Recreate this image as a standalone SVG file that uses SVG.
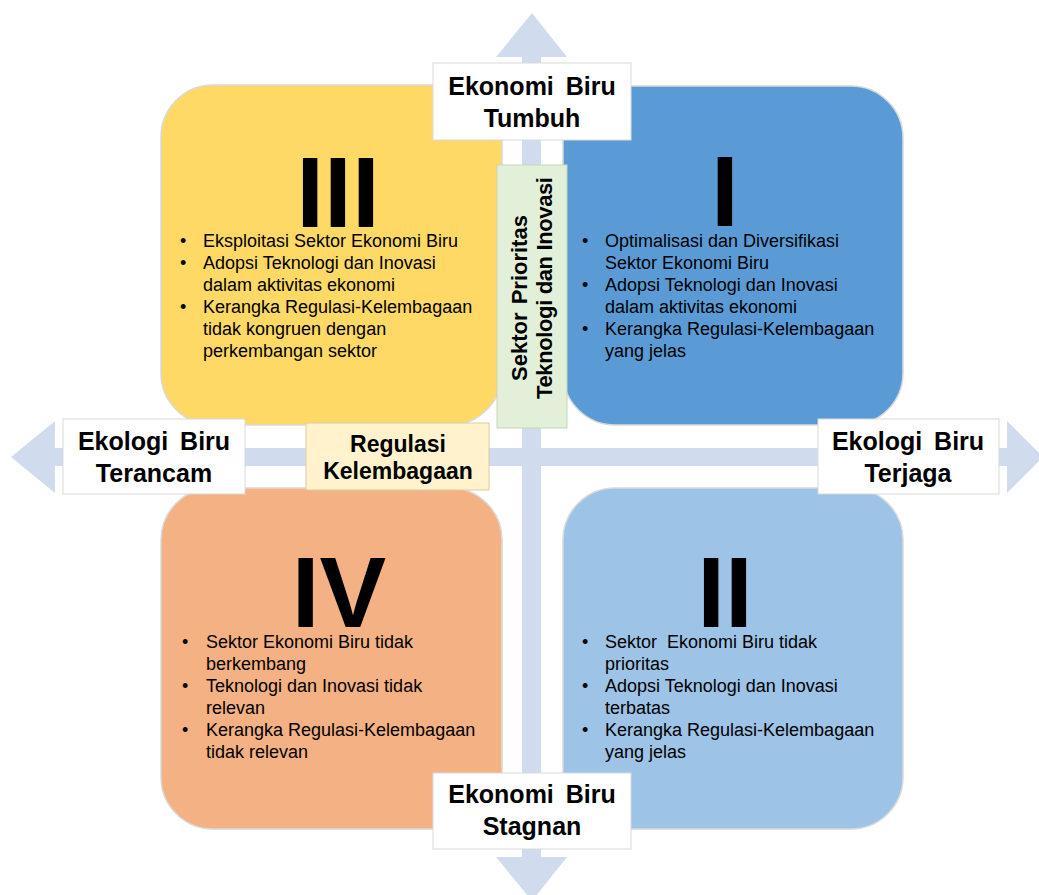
<svg xmlns="http://www.w3.org/2000/svg" width="1039" height="895" viewBox="0 0 1039 895">
<style>
.quad{stroke:#D9D9D9;stroke-width:1.5}
.lbl{fill:#FFFFFF;stroke:#D9D9D9;stroke-width:1}
.lt{font-family:"Liberation Sans",Arial,sans-serif;font-weight:bold;font-size:25px;fill:#000;text-anchor:middle;word-spacing:5px}
.num{font-family:"Liberation Sans",Arial,sans-serif;font-weight:bold;font-size:100px;fill:#000;text-anchor:middle}
.b{font-family:"Liberation Sans",Arial,sans-serif;font-size:18px;fill:#000}
.axis{fill:#D0DCEE}
</style>
<rect width="1039" height="895" fill="#FFFFFF"/>
<g id="connectors">
<polygon class="axis" points="532,13 567,57 541,57 541,857 567,857 532,901 496,857 522,857 522,57 496,57"/>
<polygon class="axis" points="11,457 55,421 55,448 1007,448 1007,421 1043,457 1007,493 1007,466 55,466 55,493"/>
</g>
<g id="quad-III">
<rect class="quad" x="161" y="85" width="341" height="340" rx="52" fill="#FFD966"/>
<text class="num" x="338" y="227">III</text>
<g class="b">
<text x="180" y="247">•</text><text x="203" y="247">Eksploitasi Sektor Ekonomi Biru</text>
<text x="180" y="269">•</text><text x="203" y="269">Adopsi Teknologi dan Inovasi</text>
<text x="203" y="291">dalam aktivitas ekonomi</text>
<text x="180" y="313">•</text><text x="203" y="313">Kerangka Regulasi-Kelembagaan</text>
<text x="203" y="335">tidak kongruen dengan</text>
<text x="203" y="357">perkembangan sektor</text>
</g>
</g>
<g id="quad-I">
<rect class="quad" x="563" y="86" width="340" height="339" rx="52" fill="#5B9BD5"/>
<text class="num" x="725" y="226">I</text>
<g class="b">
<text x="582" y="247">•</text><text x="605" y="247">Optimalisasi dan Diversifikasi</text>
<text x="605" y="269">Sektor Ekonomi Biru</text>
<text x="582" y="291">•</text><text x="605" y="291">Adopsi Teknologi dan Inovasi</text>
<text x="605" y="313">dalam aktivitas ekonomi</text>
<text x="582" y="335">•</text><text x="605" y="335">Kerangka Regulasi-Kelembagaan</text>
<text x="605" y="357">yang jelas</text>
</g>
</g>
<g id="quad-IV">
<rect class="quad" x="161" y="488" width="341" height="341" rx="52" fill="#F4B183"/>
<text class="num" x="339" y="627">IV</text>
<g class="b">
<text x="182" y="648">•</text><text x="206" y="648">Sektor Ekonomi Biru tidak</text>
<text x="206" y="670">berkembang</text>
<text x="182" y="692">•</text><text x="206" y="692">Teknologi dan Inovasi tidak</text>
<text x="206" y="714">relevan</text>
<text x="182" y="736">•</text><text x="206" y="736">Kerangka Regulasi-Kelembagaan</text>
<text x="206" y="758">tidak relevan</text>
</g>
</g>
<g id="quad-II">
<rect class="quad" x="563" y="488" width="340" height="341" rx="52" fill="#9DC3E6"/>
<text class="num" x="725" y="627">II</text>
<g class="b">
<text x="582" y="648">•</text><text x="605" y="648" style="white-space:pre">Sektor  Ekonomi Biru tidak</text>
<text x="605" y="670">prioritas</text>
<text x="582" y="692">•</text><text x="605" y="692">Adopsi Teknologi dan Inovasi</text>
<text x="605" y="714">terbatas</text>
<text x="582" y="736">•</text><text x="605" y="736">Kerangka Regulasi-Kelembagaan</text>
<text x="605" y="758">yang jelas</text>
</g>
</g>
<g id="sektor-prioritas">
<rect x="497" y="165" width="70" height="263" fill="#E2F0D9" stroke="#C5D6BA" stroke-width="1"/>
<text class="lt" style="font-size:22px;word-spacing:2px" transform="translate(527,298) rotate(-90)">Sektor Prioritas</text>
<text class="lt" style="font-size:22px;word-spacing:0px" transform="translate(552,288) rotate(-90)" textLength="222" lengthAdjust="spacing">Teknologi dan Inovasi</text>
</g>
<g id="regulasi">
<rect x="306" y="423" width="183" height="67" fill="#FFF2CC" stroke="#D8CCA4" stroke-width="1"/>
<text class="lt" style="font-size:23px;word-spacing:0" x="398" y="452">Regulasi</text>
<text class="lt" style="font-size:23px;word-spacing:0" x="398" y="479">Kelembagaan</text>
</g>
<g id="ekonomi-tumbuh">
<rect class="lbl" x="433" y="63" width="198" height="77"/>
<text class="lt" x="532" y="95">Ekonomi Biru</text>
<text class="lt" x="532" y="127">Tumbuh</text>
</g>
<g id="ekonomi-stagnan">
<rect class="lbl" x="433" y="773" width="198" height="76"/>
<text class="lt" x="532" y="803">Ekonomi Biru</text>
<text class="lt" x="532" y="835">Stagnan</text>
</g>
<g id="ekologi-terancam">
<rect class="lbl" x="63" y="419" width="182" height="75"/>
<text class="lt" x="154" y="450">Ekologi Biru</text>
<text class="lt" x="154" y="482">Terancam</text>
</g>
<g id="ekologi-terjaga">
<rect class="lbl" x="818" y="419" width="181" height="75"/>
<text class="lt" x="908" y="450">Ekologi Biru</text>
<text class="lt" x="908" y="482">Terjaga</text>
</g>
</svg>
